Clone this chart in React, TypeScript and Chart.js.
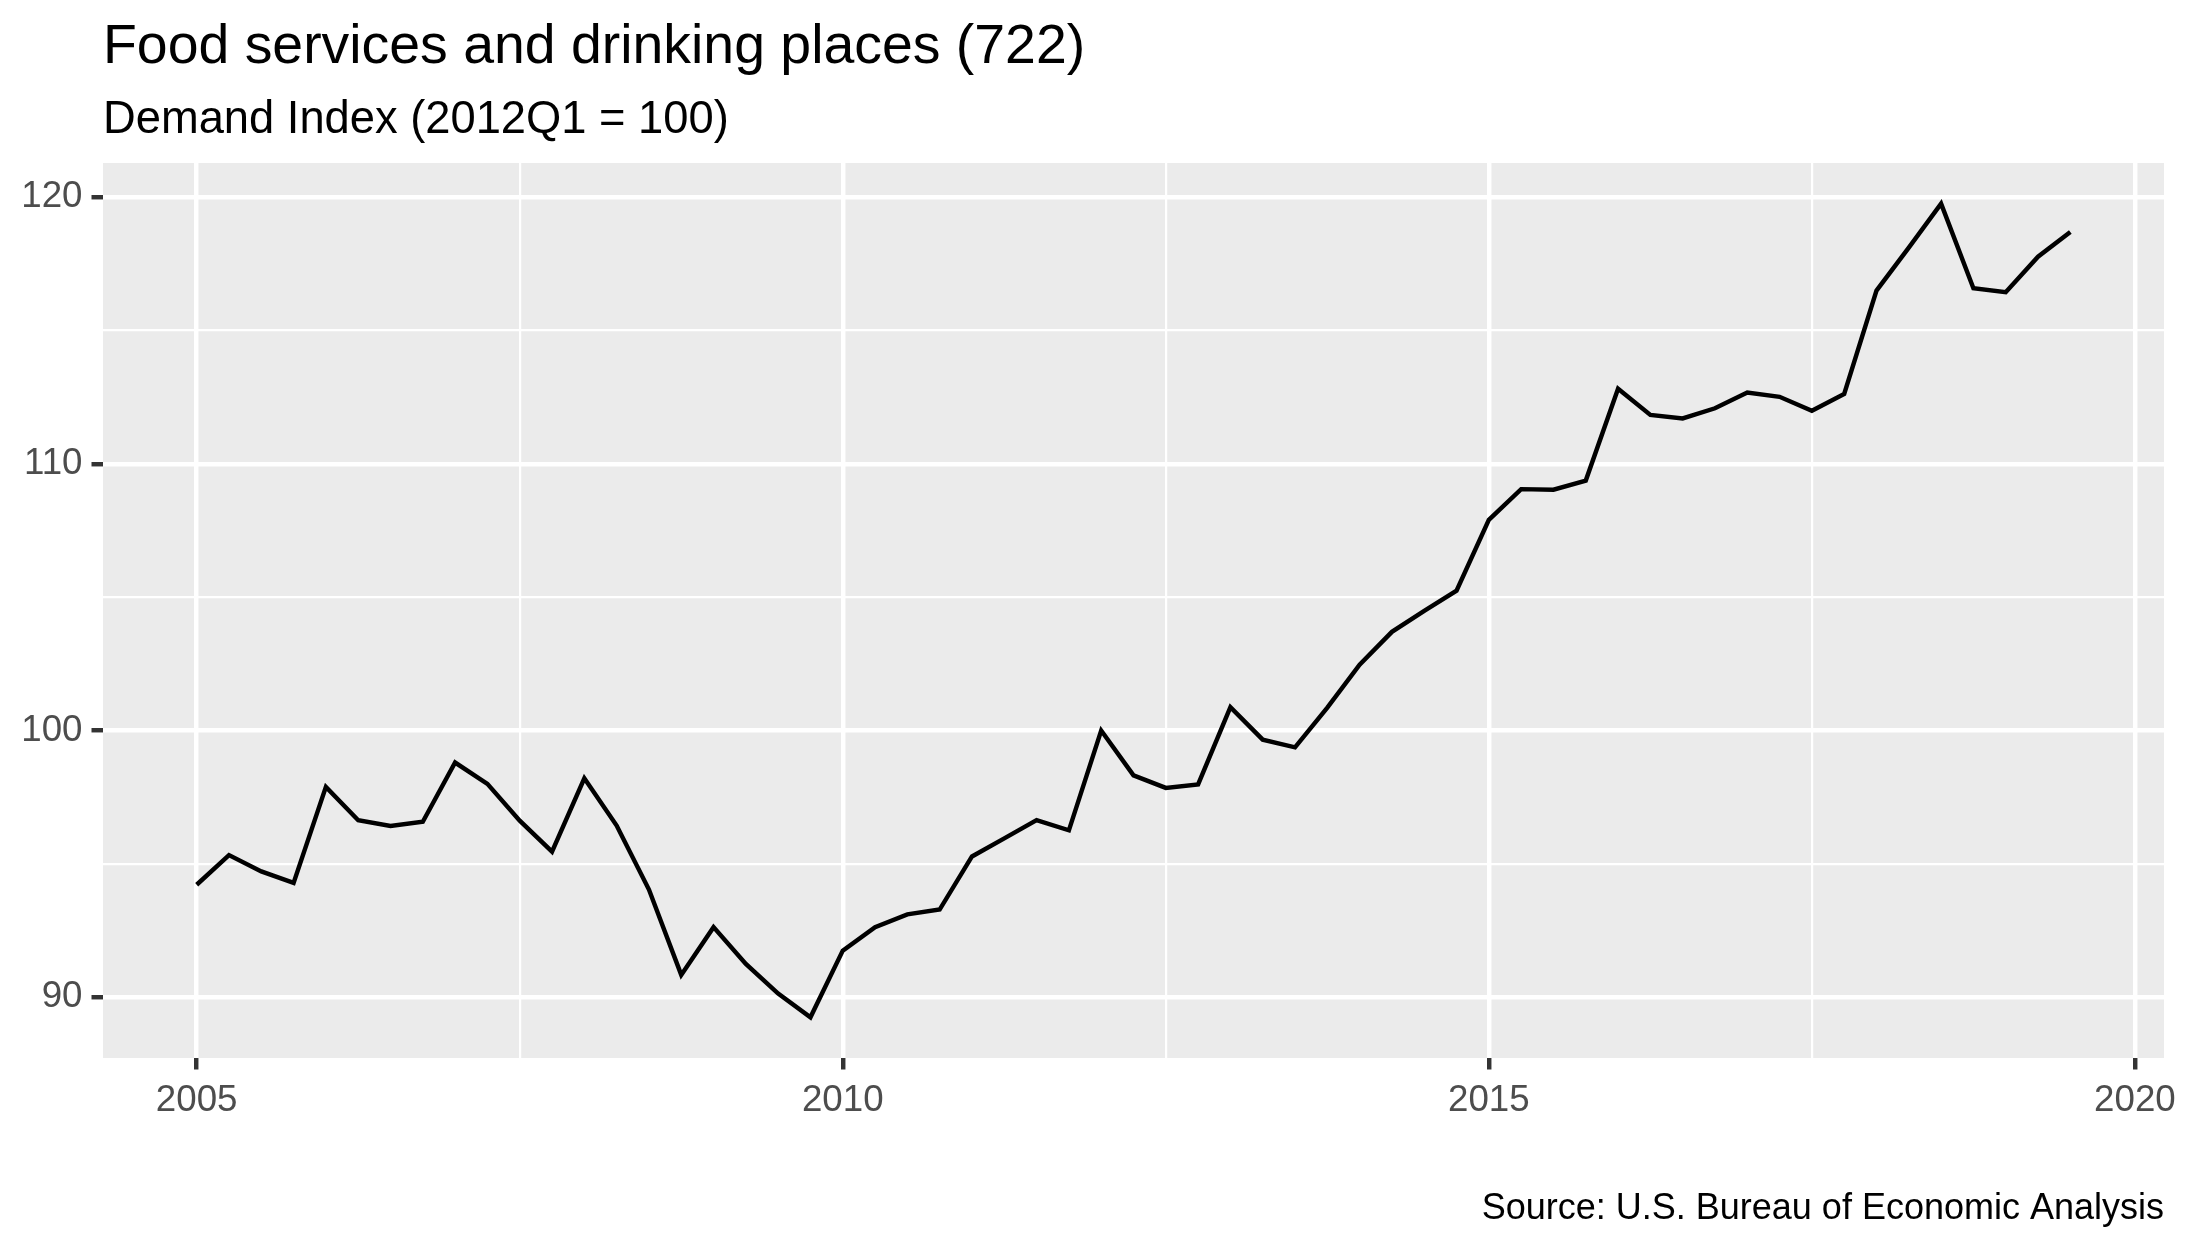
import React, { useEffect, useRef } from 'react';
import { Chart, registerables } from 'chart.js';

Chart.register(...registerables);

const quarters = [
  '2005Q1', '2005Q2', '2005Q3', '2005Q4',
  '2006Q1', '2006Q2', '2006Q3', '2006Q4',
  '2007Q1', '2007Q2', '2007Q3', '2007Q4',
  '2008Q1', '2008Q2', '2008Q3', '2008Q4',
  '2009Q1', '2009Q2', '2009Q3', '2009Q4',
  '2010Q1', '2010Q2', '2010Q3', '2010Q4',
  '2011Q1', '2011Q2', '2011Q3', '2011Q4',
  '2012Q1', '2012Q2', '2012Q3', '2012Q4',
  '2013Q1', '2013Q2', '2013Q3', '2013Q4',
  '2014Q1', '2014Q2', '2014Q3', '2014Q4',
  '2015Q1', '2015Q2', '2015Q3', '2015Q4',
  '2016Q1', '2016Q2', '2016Q3', '2016Q4',
  '2017Q1', '2017Q2', '2017Q3', '2017Q4',
  '2018Q1', '2018Q2', '2018Q3', '2018Q4',
  '2019Q1', '2019Q2', '2019Q3',
];

const demandIndex = [
  94.22, 95.33, 94.72, 94.29,
  97.89, 96.64, 96.42, 96.58,
  98.80, 98.00, 96.62, 95.46,
  98.21, 96.44, 94.04, 90.84,
  92.63, 91.25, 90.14, 89.25,
  91.75, 92.63, 93.11, 93.29,
  95.28, 95.96, 96.64, 96.26,
  100.00, 98.32, 97.85, 97.98,
  100.88, 99.66, 99.37, 100.86,
  102.47, 103.70, 104.49, 105.24,
  107.90, 109.05, 109.03, 109.37,
  112.81, 111.83, 111.70, 112.08,
  112.67, 112.51, 111.99, 112.62,
  116.49, 118.10, 119.75, 116.58,
  116.43, 117.76, 118.69,
];

const xMajorTicks = [2005, 2010, 2015, 2020];
const xMinorTicks = [2007.5, 2012.5, 2017.5];
const yMajorTicks = [90, 100, 110, 120];
const yMinorTicks = [95, 105, 115];

const titleText = 'Food services and drinking places (722)';
const subtitleText = 'Demand Index (2012Q1 = 100)';
const captionText = 'Source: U.S. Bureau of Economic Analysis';

const FONT = "'Liberation Sans', Arial, Helvetica, sans-serif";
const W = 2187;
const H = 1250;

const quarterToYear = (q: string) => parseInt(q.slice(0, 4), 10) + (parseInt(q.slice(5), 10) - 1) / 4;

export default function App() {
  const canvasRef = useRef<HTMLCanvasElement | null>(null);

  useEffect(() => {
    const canvas = canvasRef.current;
    if (!canvas) return;

    const xs = quarters.map(quarterToYear);
    const points = xs.map((x, i) => ({ x, y: demandIndex[i] }));
    const xMinData = Math.min(...xs);
    const xMaxData = Math.max(...xs);
    const yMinData = Math.min(...demandIndex);
    const yMaxData = Math.max(...demandIndex);
    const xPad = (xMaxData - xMinData) * 0.05;
    const yPad = (yMaxData - yMinData) * 0.05;

    const ggPlugin = {
      id: 'ggTheme',
      beforeDraw(chart: any) {
        const { ctx, chartArea: a } = chart;
        ctx.save();
        ctx.fillStyle = '#EBEBEB';
        ctx.fillRect(a.left, a.top, a.right - a.left, a.bottom - a.top);
        ctx.restore();
      },
      afterDraw(chart: any) {
        const { ctx, chartArea: a } = chart;
        ctx.save();
        ctx.fillStyle = '#000000';
        ctx.textBaseline = 'alphabetic';
        ctx.textAlign = 'left';
        ctx.font = `55.4px ${FONT}`;
        ctx.fillText(titleText, a.left, 62.7);
        ctx.font = `45.3px ${FONT}`;
        ctx.fillText(subtitleText, a.left, 133.3);
        ctx.textAlign = 'right';
        ctx.font = `36px ${FONT}`;
        ctx.fillText(captionText, a.right, 1218.5);
        ctx.restore();
      },
    };

    const isMajorX = (v: number) => xMajorTicks.includes(v);
    const isMajorY = (v: number) => yMajorTicks.includes(v);

    const chart = new Chart(canvas, {
      type: 'line',
      data: {
        datasets: [
          {
            data: points,
            borderColor: '#000000',
            borderWidth: 4.45,
            pointRadius: 0,
            pointHoverRadius: 0,
            tension: 0,
            fill: false,
          },
        ],
      },
      options: {
        responsive: false,
        animation: false,
        devicePixelRatio: 1,
        layout: { padding: { left: 0, right: 23, top: 163, bottom: 0 } },
        plugins: {
          legend: { display: false },
          tooltip: { enabled: false },
          title: { display: false },
        },
        scales: {
          x: {
            type: 'linear',
            min: xMinData - xPad,
            max: xMaxData + xPad,
            afterBuildTicks: (scale: any) => {
              scale.ticks = [...xMajorTicks, ...xMinorTicks]
                .sort((a, b) => a - b)
                .map((v) => ({ value: v }));
            },
            afterFit: (scale: any) => {
              scale.height = 192;
            },
            border: { display: false },
            grid: {
              color: '#FFFFFF',
              lineWidth: (c: any) => (isMajorX(c.tick?.value) ? 4.45 : 2.2),
              tickColor: (c: any) => (isMajorX(c.tick?.value) ? '#333333' : 'rgba(0,0,0,0)'),
              tickWidth: 4.45,
              tickLength: 11.5,
              drawTicks: true,
            },
            ticks: {
              autoSkip: false,
              maxRotation: 0,
              padding: 9.5,
              color: '#4D4D4D',
              font: { family: FONT, size: 36.7 },
              callback: (v: any) => (isMajorX(Number(v)) ? String(v) : ''),
            },
          },
          y: {
            type: 'linear',
            min: yMinData - yPad,
            max: yMaxData + yPad,
            afterBuildTicks: (scale: any) => {
              scale.ticks = [...yMajorTicks, ...yMinorTicks]
                .sort((a, b) => a - b)
                .map((v) => ({ value: v }));
            },
            afterFit: (scale: any) => {
              scale.width = 103;
            },
            border: { display: false },
            grid: {
              color: '#FFFFFF',
              lineWidth: (c: any) => (isMajorY(c.tick?.value) ? 4.45 : 2.2),
              tickColor: (c: any) => (isMajorY(c.tick?.value) ? '#333333' : 'rgba(0,0,0,0)'),
              tickWidth: 4.45,
              tickLength: 11.5,
              drawTicks: true,
            },
            ticks: {
              autoSkip: false,
              padding: 9,
              color: '#4D4D4D',
              font: { family: FONT, size: 36.7 },
              callback: (v: any) => (isMajorY(Number(v)) ? String(v) : ''),
            },
          },
        },
      },
      plugins: [ggPlugin],
    } as any);

    return () => {
      chart.destroy();
    };
  }, []);

  return (
    <div style={{ position: 'fixed', left: 0, top: 0, width: W, height: H, background: '#FFFFFF' }}>
      <canvas ref={canvasRef} width={W} height={H} style={{ width: W, height: H, display: 'block' }} />
    </div>
  );
}
